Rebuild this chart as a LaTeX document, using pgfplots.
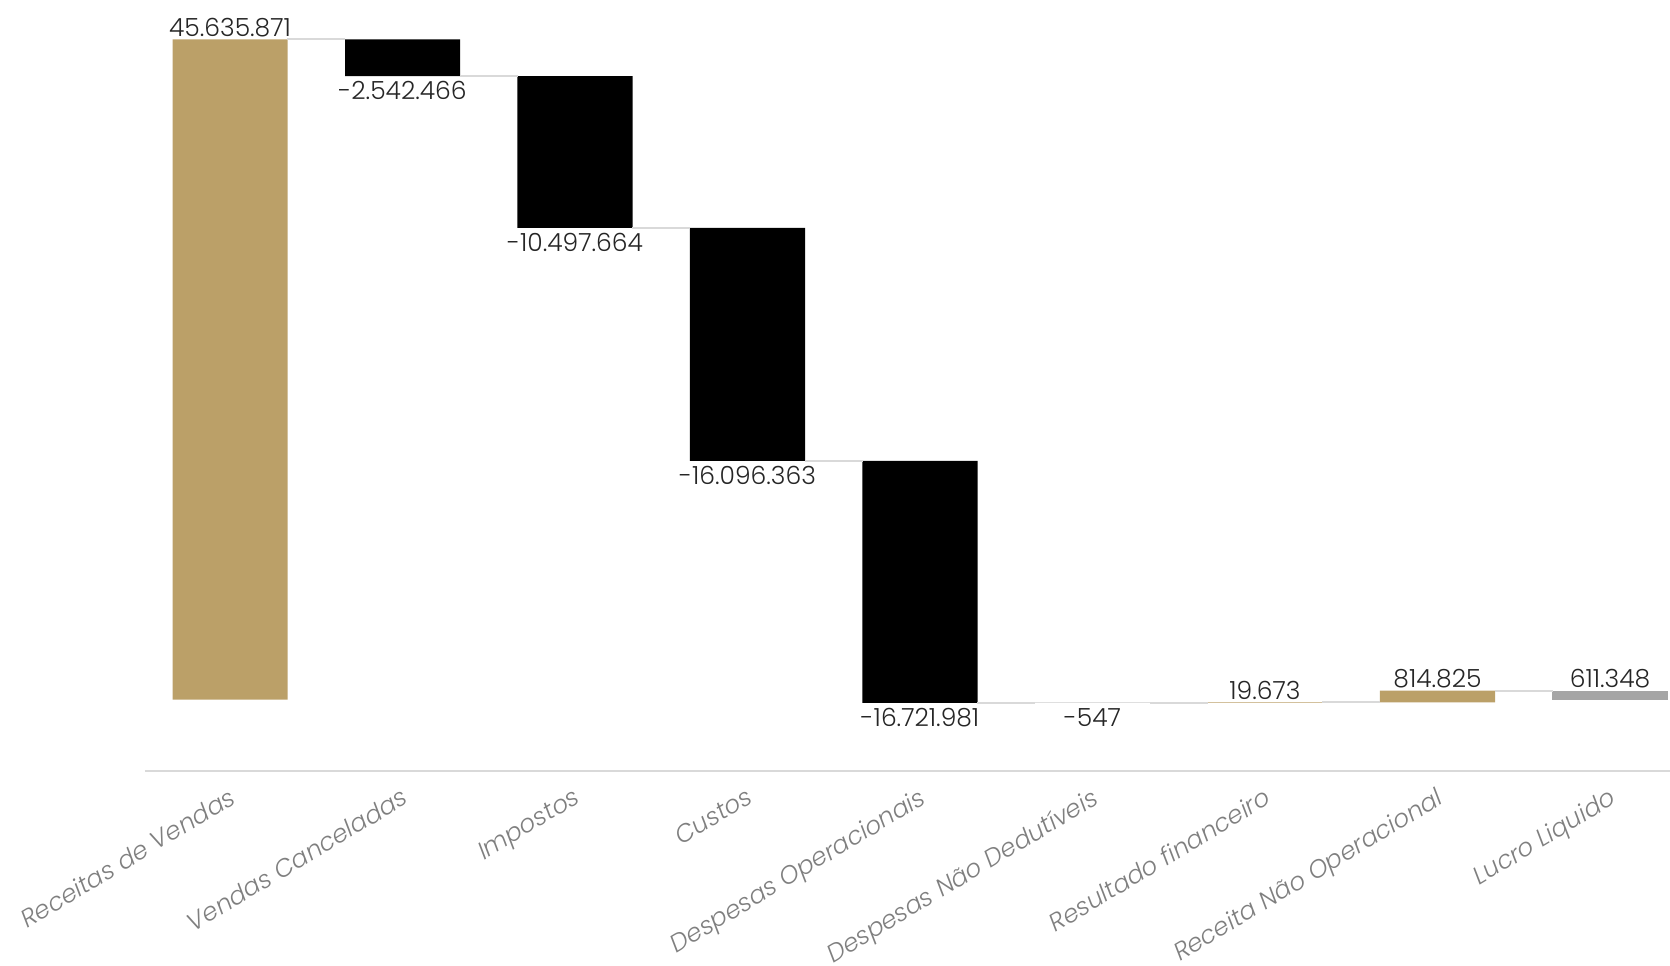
\documentclass[border=0pt]{standalone}
\usepackage{fontspec}
\setmainfont{Poppins}[UprightFont={* Light}, ItalicFont={* Light Italic}]
\usepackage{pgfplots}
\pgfplotsset{compat=1.18}
\usepackage{pgfplotstable}

\definecolor{ouro}{HTML}{BBA068}
\definecolor{cinza}{HTML}{A5A5A5}
\definecolor{linha}{HTML}{D9D9D9}
\definecolor{rotulo}{HTML}{7F7F7F}
\definecolor{valor}{HTML}{262626}

% cascata: base invisivel + parte visivel
\pgfplotstableread{
x base ganho perda total
0 0 45635871 0 0
1 43093405 0 2542466 0
2 32595741 0 10497664 0
3 16499378 0 16096363 0
4 -222603 0 16721981 0
5 -223150 0 547 0
6 -223150 19673 0 0
7 -203477 814825 0 0
8 0 0 0 611348
}\barras

\pgfplotstableread{
x y lab
0 45635871 45.635.871
6 -203477 19.673
7 611348 814.825
8 611348 611.348
}\acima

\pgfplotstableread{
x y lab
1 43093405 -2.542.466
2 32595741 -10.497.664
3 16499378 -16.096.363
4 -222603 -16.721.981
5 -223150 -547
}\abaixo

\pgfplotstableread{
x y
0.333 45635871
0.667 45635871
nan nan
1.333 43093405
1.667 43093405
nan nan
2.333 32595741
2.667 32595741
nan nan
3.333 16499378
3.667 16499378
nan nan
4.333 -222603
4.667 -222603
nan nan
5.333 -223150
5.667 -223150
nan nan
6.333 -203477
6.667 -203477
nan nan
7.333 611348
7.667 611348
}\conectores

\pgfplotsset{
    base/.style={
        width=762.5pt, height=385.5pt, scale only axis,
        xmin=-0.493, xmax=8.348,
        ymin=-4.94e6, ymax=48.35e6,
        clip=false,
    },
}

\begin{document}
\begin{tikzpicture}
    \begin{axis}[
        base,
        ybar stacked,
        stack negative=on previous,
        bar width=0.667,
        axis x line*=bottom,
        axis y line=none,
        x axis line style={linha, line width=1pt},
        xtick={0,...,8},
        xticklabels={Receitas de Vendas, Vendas Canceladas, Impostos, Custos,
            Despesas Operacionais, Despesas Não Dedutíveis, Resultado financeiro,
            Receita Não Operacional, Lucro Liquido},
        major tick length=0pt,
        ytick=\empty,
        xticklabel style={yshift=-3pt, xshift=0pt, rotate=31, anchor=north east,
            font=\fontsize{12.4}{14}\selectfont\itshape, text=rotulo},
    ]
    \addplot [draw=none, fill=none] table [x=x, y=base] {\barras};
    \addplot [draw=none, fill=ouro] table [x=x, y=ganho] {\barras};
    \addplot [draw=none, fill=black] table [x=x, y=perda] {\barras};
    \addplot [draw=none, fill=cinza] table [x=x, y=total] {\barras};
    \end{axis}

    \begin{axis}[base, hide axis]
    \addplot [linha, line width=1pt, unbounded coords=jump] table {\conectores};
    \addplot [draw=none, mark=none, nodes near coords, point meta=explicit symbolic,
        nodes near coords style={anchor=south, inner sep=1pt, text=valor,
            font=\fontsize{12.5}{14}\selectfont}]
        table [x=x, y=y, meta=lab] {\acima};
    \addplot [draw=none, mark=none, nodes near coords, point meta=explicit symbolic,
        nodes near coords style={anchor=north, inner sep=2.5pt, text=valor,
            font=\fontsize{12.5}{14}\selectfont}]
        table [x=x, y=y, meta=lab] {\abaixo};
    \end{axis}

    \pgfresetboundingbox
    \path (current axis.south west) ++(-72.5pt,-97pt) rectangle ++(835pt,482.5pt);
\end{tikzpicture}
\end{document}
